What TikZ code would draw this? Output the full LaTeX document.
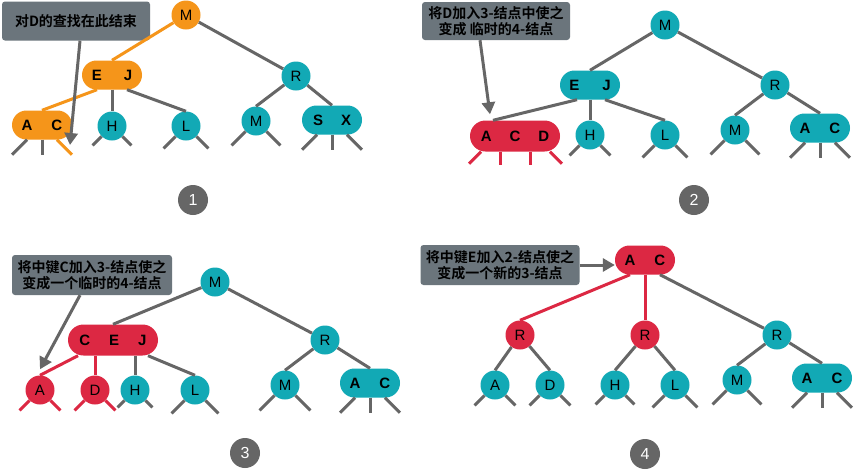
\documentclass[tikz,border=0pt]{standalone}
\usepackage{fontspec}
\setmainfont{Liberation Sans}
\newfontfamily\cjkfont[BoldFont={Noto Sans CJK SC Bold}]{Noto Sans CJK SC}
\usetikzlibrary{arrows.meta}

\definecolor{keyteal}{HTML}{12A9B5}
\definecolor{keyorange}{HTML}{F5951A}
\definecolor{keyred}{HTML}{DC2843}
\definecolor{linegray}{HTML}{666666}
\definecolor{notegray}{HTML}{6B757C}

% two stubs below a 2-node
\newcommand\twigs[3][link]{%
    \draw [#1] (#2.south west) -- ++(-#3,#3);
    \draw [#1] (#2.south east) -- ++(#3,#3);}
% three stubs below a 3-node
\newcommand\pilltwigs[2][link]{%
    \draw [#1] ([xshift=-15pt]#2.south) -- ++(-15,15);
    \draw [#1] (#2.south) -- ++(0,15);
    \draw [#1] ([xshift=15pt]#2.south) -- ++(15,15);}

\begin{document}
\begin{tikzpicture}[
        x=1pt, y=-1pt,
        key/.style={
            circle,
            fill=keyteal,
            minimum size=29pt,
            inner sep=0pt,
            font=\fontsize{15}{15}\selectfont
        },
        pill/.style={
            rectangle,
            fill=keyteal,
            rounded corners=14.5pt,
            minimum width=60pt,
            minimum height=29pt,
            inner sep=0pt,
            font=\bfseries\fontsize{15}{15}\selectfont
        },
        wide/.style={pill, minimum width=90pt, minimum height=31pt, rounded corners=15.5pt},
        note/.style={
            rectangle,
            fill=notegray,
            rounded corners=3pt,
            inner sep=0pt,
            align=center,
            font=\cjkfont\bfseries\fontsize{14}{16}\selectfont
        },
        tag/.style={
            circle,
            fill=linegray,
            minimum size=30pt,
            inner sep=0pt,
            text=white,
            font=\fontsize{16}{16}\selectfont
        },
        link/.style={draw=linegray, line width=3pt},
        hitlink/.style={draw=keyorange, line width=3pt},
        newlink/.style={draw=keyred, line width=3pt},
        pointer/.style={draw=linegray, line width=3pt, -{Triangle[length=12pt,width=13pt]}}
    ]
        \path [fill=white, use as bounding box] (0,0) rectangle (856,472);

        % Panel 1
        \node [note, minimum width=148pt, minimum height=39pt] (note1) at (76,21) {对D的查找在此结束};
        \node [key, fill=keyorange] (m1) at (186,15) {M};
        \node [pill, fill=keyorange] (ej1) at (112,75) {E\hspace{22pt}J};
        \node [key] (r1) at (296,76) {R};
        \node [pill, fill=keyorange] (ac1) at (42,125) {A\hspace{19pt}C};
        \node [key] (h1) at (112,126) {H};
        \node [key] (l1) at (186,126) {L};
        \node [key] (mm1) at (256,121) {M};
        \node [pill] (sx1) at (332,120) {S\hspace{18pt}X};
        \node [tag] (tag1) at (193,200) {1};
        \coordinate (miss1) at (70,145);

        \path [hitlink] (m1) -- (ej1.north);
        \path [link] (m1) -- (r1);
        \path [hitlink] ([xshift=-15pt]ej1.south) -- (ac1.north);
        \path [link] (ej1.south) -- (h1.north);
        \path [link] ([xshift=15pt]ej1.south) -- (l1.north);
        \path [link] (r1) -- (mm1.north);
        \path [link] (r1) -- (sx1.north);
        \draw [link] ([xshift=-15pt]ac1.south) -- ++(-15,15);
        \draw [link] (ac1.south) -- ++(0,15);
        \draw [hitlink] ([xshift=15pt]ac1.south) -- ++(15,15);
        \twigs{h1}{9}
        \twigs{l1}{12}
        \twigs{mm1}{14}
        \pilltwigs{sx1}
        \path [pointer] ([xshift=4pt]note1.south) -- (miss1);

        % Panel 2
        \node [note, minimum width=148pt, minimum height=38pt] (note2) at (496,21) {将D加入3-结点中使之\\变成 临时的4-结点};
        \node [key] (m2) at (665,25) {M};
        \node [pill] (ej2) at (590,85) {E\hspace{23pt}J};
        \node [key] (r2) at (775,85) {R};
        \node [wide, fill=keyred] (acd2) at (515,136) {A\hspace{18pt}C\hspace{18pt}D};
        \node [key] (h2) at (590,135) {H};
        \node [key] (l2) at (665,135) {L};
        \node [key] (mm2) at (735,130) {M};
        \node [pill] (ac2) at (820,128) {A\hspace{19pt}C};
        \node [tag] (tag2) at (694,200) {2};

        \path [link] (m2) -- (ej2.north);
        \path [link] (m2) -- (r2);
        \path [link] ([xshift=-13pt]ej2.south) -- ([xshift=-22pt]acd2.north);
        \path [link] (ej2.south) -- (h2.north);
        \path [link] ([xshift=15pt]ej2.south) -- (l2.north);
        \path [link] (r2) -- (mm2.north);
        \path [link] (r2) -- (ac2.north);
        \draw [newlink] ([xshift=-34pt]acd2.south) -- ++(-12,12);
        \draw [newlink] ([xshift=-15pt]acd2.south) -- ++(0,13);
        \draw [newlink] ([xshift=15pt]acd2.south) -- ++(0,13);
        \draw [newlink] ([xshift=35pt]acd2.south) -- ++(12,12);
        \twigs{h2}{10}
        \twigs{l2}{12}
        \twigs{mm2}{14}
        \pilltwigs{ac2}
        \path [pointer] ([xshift=-16pt]note2.south) -- ([xshift=-25pt,yshift=6pt]acd2.north);

        % Panel 3
        \node [note, minimum width=160pt, minimum height=40pt] (note3) at (92,275) {将中键C加入3-结点使之\\变成一个临时的4-结点};
        \node [key] (m3) at (215,282) {M};
        \node [wide, fill=keyred] (cej3) at (113,340) {C\hspace{19pt}E\hspace{19pt}J};
        \node [key] (r3) at (325,340) {R};
        \node [key, fill=keyred] (a3) at (40,390) {A};
        \node [key, fill=keyred] (d3) at (95,390) {D};
        \node [key] (h3) at (135,390) {H};
        \node [key] (l3) at (195,390) {L};
        \node [key] (mm3) at (285,385) {M};
        \node [pill] (ac3) at (370,383) {A\hspace{19pt}C};
        \node [tag] (tag3) at (245,453) {3};

        \path [link] (m3) -- (cej3.north);
        \path [link] (m3) -- (r3);
        \path [newlink] ([xshift=-35pt]cej3.south) -- (a3.north);
        \path [newlink] ([xshift=-18pt]cej3.south) -- (d3.north);
        \path [link] ([xshift=22pt]cej3.south) -- (h3.north);
        \path [link] ([xshift=35pt]cej3.south) -- (l3.north);
        \path [link] (r3) -- (mm3.north);
        \path [link] (r3) -- (ac3.north);
        \twigs[newlink]{a3}{10}
        \twigs[newlink]{d3}{10}
        \twigs{h3}{7}
        \twigs{l3}{13}
        \twigs{mm3}{15}
        \pilltwigs{ac3}
        \path [pointer] ([xshift=-12pt]note3.south) -- ([yshift=6pt]a3.north);

        % Panel 4
        \node [note, minimum width=159pt, minimum height=40pt] (note4) at (500,265) {将中键E加入2-结点使之\\变成一个新的3-结点};
        \node [pill, fill=keyred] (ac4) at (645,260) {A\hspace{19pt}C};
        \node [key, fill=keyred] (ra4) at (520,335) {R};
        \node [key, fill=keyred] (rb4) at (645,335) {R};
        \node [key] (rc4) at (777,335) {R};
        \node [key] (a4) at (495,385) {A};
        \node [key] (d4) at (550,385) {D};
        \node [key] (h4) at (615,385) {H};
        \node [key] (l4) at (675,385) {L};
        \node [key] (mm4) at (737,380) {M};
        \node [pill] (acc4) at (822,378) {A\hspace{19pt}C};
        \node [tag] (tag4) at (645,454) {4};

        \path [newlink] ([xshift=-15pt]ac4.south) -- (ra4.north);
        \path [newlink] (ac4.south) -- (rb4.north);
        \path [link] ([xshift=15pt]ac4.south) -- (rc4);
        \path [link] (ra4) -- (a4.north);
        \path [link] (ra4) -- (d4.north);
        \path [link] (rb4) -- (h4.north);
        \path [link] (rb4) -- (l4.north);
        \path [link] (rc4) -- (mm4.north);
        \path [link] (rc4) -- (acc4.north);
        \twigs{a4}{10}
        \twigs{d4}{10}
        \twigs{h4}{9}
        \twigs{l4}{12}
        \twigs{mm4}{14}
        \pilltwigs{acc4}
        \path [pointer] (note4) -- (note4 -| ac4.west);
    \end{tikzpicture}
\end{document}
